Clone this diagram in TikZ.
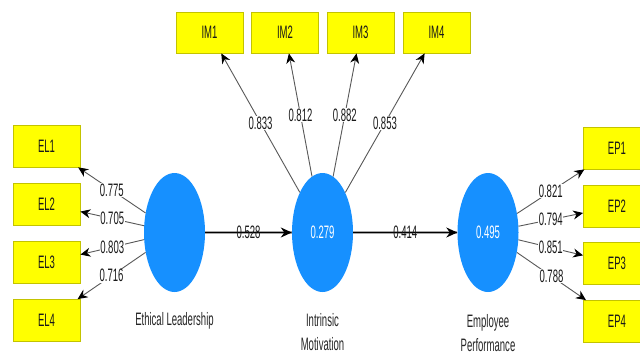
\documentclass[tikz,border=0pt]{standalone}
\usepackage{fontspec}
\setmainfont{Liberation Sans}[FakeStretch=0.53]
\usetikzlibrary{arrows.meta,shapes.geometric}
\definecolor{plsblue}{RGB}{22,144,255}
\definecolor{boxyellow}{RGB}{255,255,0}
\definecolor{boxedge}{RGB}{195,195,0}
\begin{document}
\begin{tikzpicture}[x=1pt,y=-1pt,
  ind/.style={rectangle, draw=boxedge, fill=boxyellow, line width=0.8pt,
    minimum width=67pt, minimum height=42pt, inner sep=0pt,
    font=\fontsize{18}{20}\selectfont, text=black!90},
  lat/.style={ellipse, fill=plsblue, minimum width=61pt, minimum height=119pt,
    inner sep=0pt, text=white, font=\fontsize{18}{20}\selectfont},
  latname/.style={font=\fontsize{18}{24}\selectfont, text=black!85, align=center},
  load/.style={draw=black!65, line width=0.9pt, -{Stealth[length=10pt,width=9pt,color=black]}},
  coef/.style={fill=white, inner sep=0.6pt, midway, font=\fontsize{18}{20}\selectfont, text=black!90},
  struct/.style={draw=black, line width=1.4pt, -{Stealth[length=11pt,width=10pt]}},
  structshadow/.style={draw=black!35, line width=3pt},
  scoef/.style={inner sep=0pt, midway, font=\fontsize{18}{20}\selectfont, text=black!90}
]
\clip (0,0) rectangle (640,354);
\fill[white] (0,0) rectangle (640,354);

% latent variables
\node[lat] (el) at (174.5,232.5) {};
\node[lat] (im) at (322.5,232.5) {0.279};
\node[lat] (ep) at (488,232.5) {0.495};

\node[latname] (elname) at (174.5,321) {Ethical Leadership};
\node[latname, anchor=north] (imname) at (322.5,310) {Intrinsic\\Motivation};
\node[latname, anchor=north] (epname) at (488,311) {Employee\\Performance};

% indicators
\node[ind] (el1) at (46.5,146) {EL1};
\node[ind] (el2) at (46.5,204) {EL2};
\node[ind] (el3) at (46.5,262.5) {EL3};
\node[ind] (el4) at (46.5,320.5) {EL4};

\node[ind, minimum height=41pt] (im1) at (209.5,32.5) {IM1};
\node[ind, minimum height=41pt] (im2) at (285,32.5) {IM2};
\node[ind, minimum height=41pt] (im3) at (360.5,32.5) {IM3};
\node[ind, minimum height=41pt] (im4) at (436.5,32.5) {IM4};

\node[ind] (ep1) at (617,148) {EP1};
\node[ind] (ep2) at (617,206) {EP2};
\node[ind] (ep3) at (617,263.5) {EP3};
\node[ind] (ep4) at (617,321.5) {EP4};

% loadings
\draw[load] (el) -- node[coef] {0.775} (el1);
\draw[load] (el) -- node[coef] {0.705} (el2);
\draw[load] (el) -- node[coef] {0.803} (el3);
\draw[load] (el) -- node[coef] {0.716} (el4);

\draw[load] (im) -- node[coef] {0.833} (im1);
\draw[load] (im) -- node[coef] {0.812} (im2);
\draw[load] (im) -- node[coef] {0.882} (im3);
\draw[load] (im) -- node[coef] {0.853} (im4);

\draw[load] (ep) -- node[coef] {0.821} (ep1);
\draw[load] (ep) -- node[coef] {0.794} (ep2);
\draw[load] (ep) -- node[coef] {0.851} (ep3);
\draw[load] (ep) -- node[coef] {0.788} (ep4);

% structural paths
\draw[structshadow] (el.east) -- (im.west);
\draw[struct] (el.east) -- node[scoef] {0.528} (im.west);
\draw[structshadow] (im.east) -- (ep.west);
\draw[struct] (im.east) -- node[scoef] {0.414} (ep.west);
\end{tikzpicture}
\end{document}
